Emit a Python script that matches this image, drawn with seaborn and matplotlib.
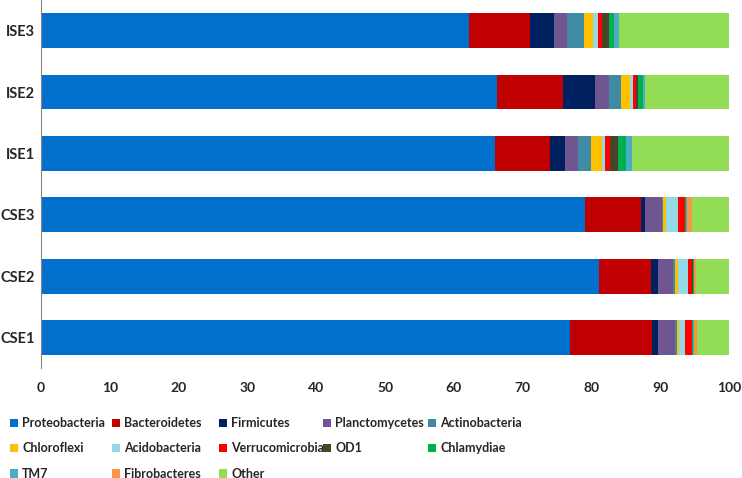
import numpy as np
import pandas as pd
import seaborn as sns
import matplotlib.pyplot as plt
from matplotlib.patches import Patch

# samples, top to bottom as drawn
samples = ["ISE3", "ISE2", "ISE1", "CSE3", "CSE2", "CSE1"]

phyla = ["Proteobacteria", "Bacteroidetes", "Firmicutes", "Planctomycetes",
         "Actinobacteria", "Chloroflexi", "Acidobacteria", "Verrucomicrobia",
         "OD1", "Chlamydiae", "TM7", "Fibrobacteres", "Other"]

# relative abundance (%) per sample, in phyla order
ise3 = [62.2, 8.9, 3.4, 1.9, 2.5, 1.3, 0.7, 0.6, 1.0, 0.8, 0.6, 0.1, 16.0]
ise2 = [66.3, 9.5, 4.7, 2.0, 1.7, 1.4, 0.4, 0.4, 0.4, 0.6, 0.3, 0.1, 12.2]
ise1 = [66.0, 8.0, 2.1, 1.9, 1.9, 1.6, 0.5, 0.6, 1.2, 1.2, 0.8, 0.1, 14.1]
cse3 = [79.0, 8.1, 0.7, 2.4, 0.2, 0.4, 1.8, 0.9, 0.1, 0.1, 0.1, 0.8, 5.4]
cse2 = [81.0, 7.6, 1.1, 2.1, 0.3, 0.4, 1.5, 0.6, 0.1, 0.1, 0.1, 0.3, 4.8]
cse1 = [76.9, 11.8, 0.9, 2.5, 0.3, 0.3, 0.9, 0.9, 0.1, 0.1, 0.1, 0.5, 4.7]

colors = ["#0070CC", "#C00000", "#002060", "#6F5690", "#3F8BA6",
          "#FFC000", "#93D9E6", "#FF0000", "#4A452A", "#00B050",
          "#4BACC6", "#F79646", "#92DD55"]

df = pd.DataFrame([ise3, ise2, ise1, cse3, cse2, cse1], index=samples, columns=phyla)
cum = df.cumsum(axis=1)

sns.set_theme(style="white")
plt.rcParams["font.family"] = ["Lato", "DejaVu Sans"]

fig = plt.figure(figsize=(7.42, 4.78), dpi=100)
ax = fig.add_axes([0.055, 0.23, 0.928, 0.77])

# draw cumulative totals from the last phylum back, so each shorter bar sits on top
for name, col in reversed(list(zip(phyla, colors))):
    sub = pd.DataFrame({"sample": samples, "value": cum[name].values})
    sns.barplot(data=sub, x="value", y="sample", order=samples, orient="h",
                color=col, saturation=1, width=0.57, linewidth=0, ax=ax)

ax.set_xlim(0, 100)
ax.set_xticks(np.arange(0, 101, 10))
ax.set_xlabel("")
ax.set_ylabel("")
ax.tick_params(axis="x", labelsize=10, pad=10, length=0)
ax.tick_params(axis="y", labelsize=10.5, pad=4, length=0)
for lab in ax.get_xticklabels() + ax.get_yticklabels():
    lab.set_fontweight("bold")
for s in ["top", "right", "bottom"]:
    ax.spines[s].set_visible(False)
ax.spines["left"].set_color("#868686")
ax.spines["left"].set_linewidth(0.8)

# legend: Excel-like grid, five equal columns filled row by row
col_x = [9, 111, 218, 322, 427]
for j, x0 in enumerate(col_x):
    hs = [Patch(facecolor=colors[i], edgecolor="none", label=phyla[i])
          for i in range(j, len(phyla), 5)]
    leg = fig.legend(handles=hs, loc="upper left", bbox_to_anchor=(x0 / 742, 1 - 416 / 478),
                     ncol=1, frameon=False, fontsize=9, handlelength=0.65, handleheight=0.7,
                     handletextpad=0.3, labelspacing=1.05, borderaxespad=0, borderpad=0.1)
    for t in leg.get_texts():
        t.set_fontweight("bold")

fig.savefig("out.png", dpi=100)
